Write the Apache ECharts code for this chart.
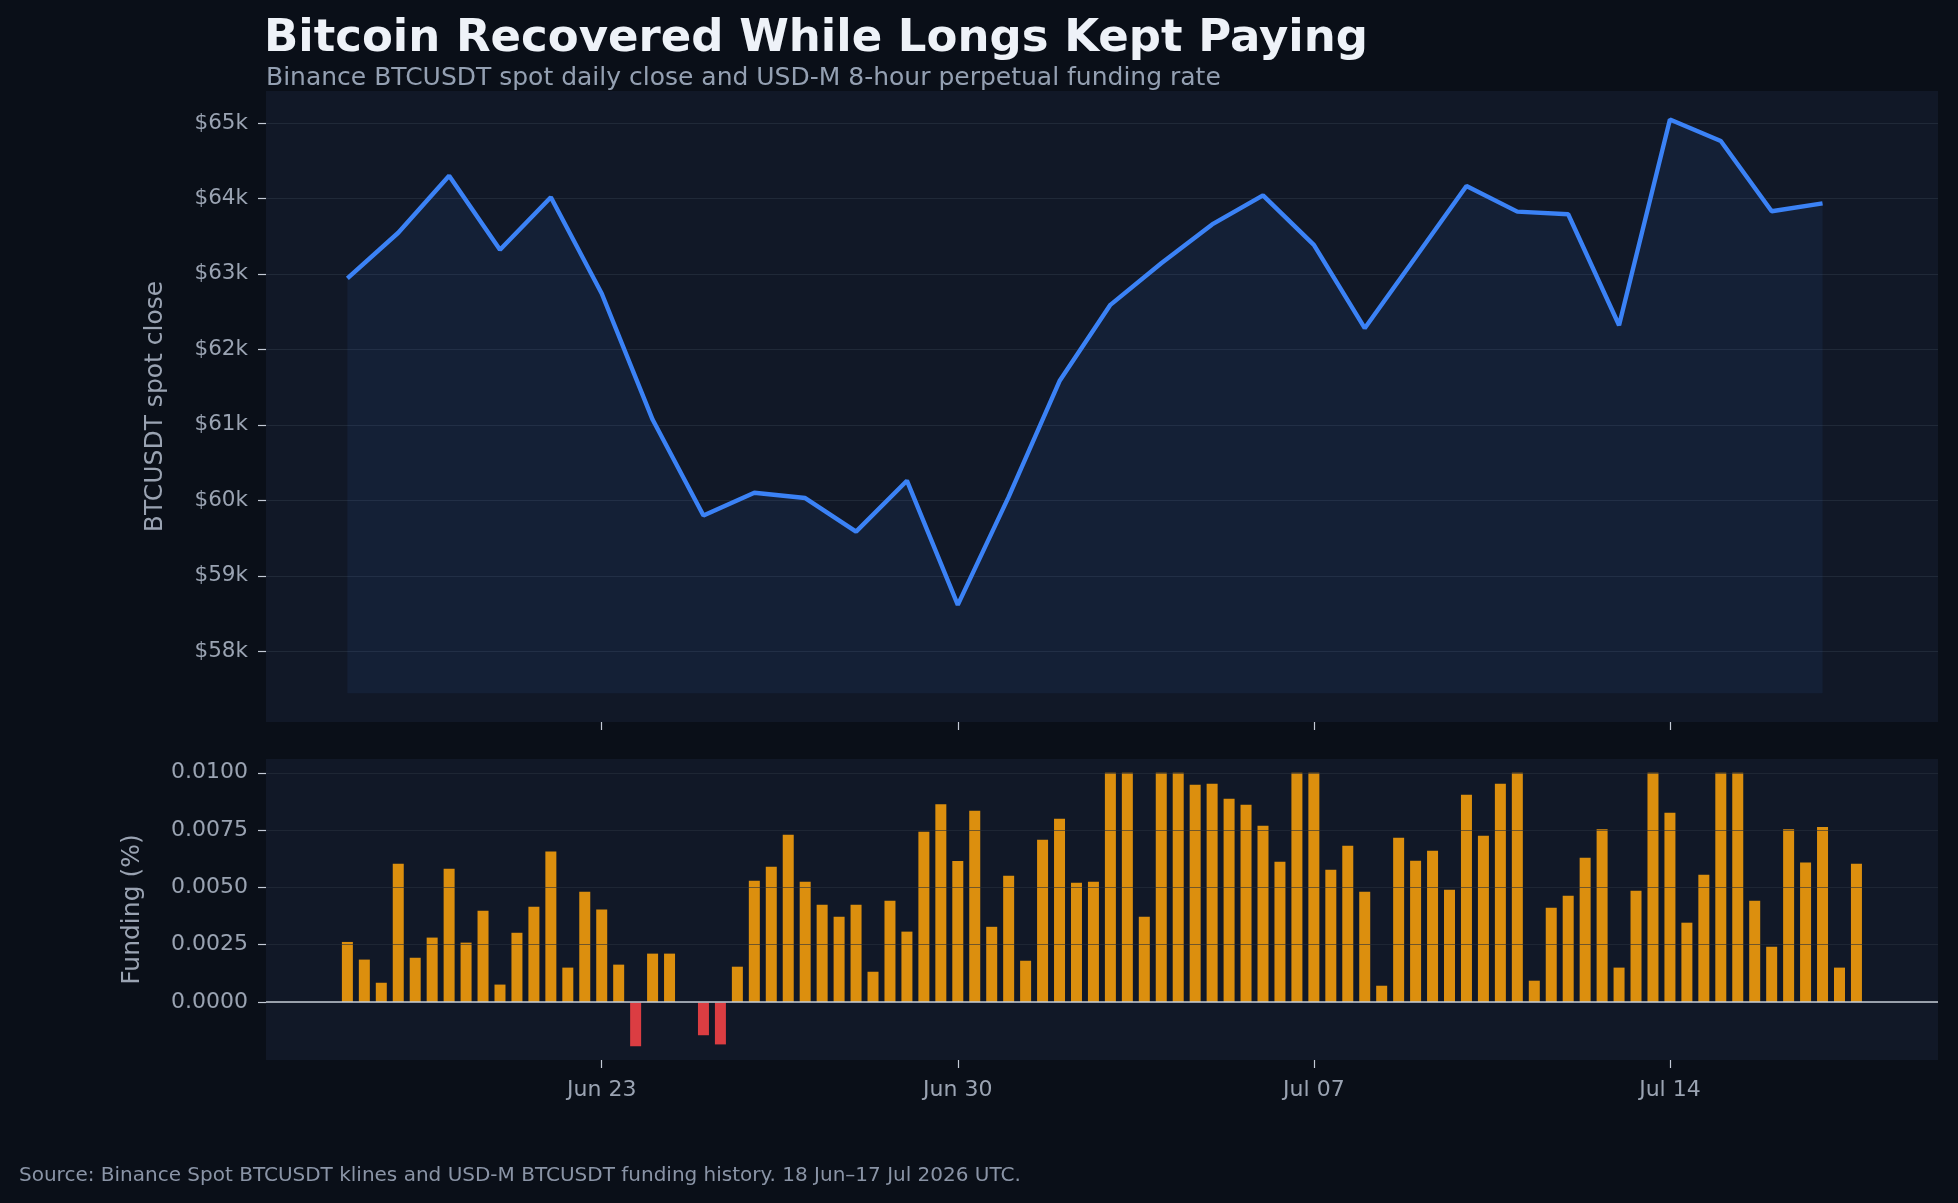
<!DOCTYPE html>
<html lang="en">
<head>
  <meta charset="UTF-8">
  <title>Bitcoin Recovered While Longs Kept Paying</title>
  <style>
    html, body {
      margin: 0;
      padding: 0;
      background: #0a0f18;
    }
    #chart {
      width: 1958px;
      height: 1203px;
    }
  </style>
</head>
<body>
  <div id="chart"></div>

  <script src="https://cdn.jsdelivr.net/npm/echarts@6.0.0/dist/echarts.min.js"></script>
  <script>
    // daily spot close, Binance BTCUSDT
    const dates = [
      '2026-06-18', '2026-06-19', '2026-06-20', '2026-06-21', '2026-06-22',
      '2026-06-23', '2026-06-24', '2026-06-25', '2026-06-26', '2026-06-27',
      '2026-06-28', '2026-06-29', '2026-06-30', '2026-07-01', '2026-07-02',
      '2026-07-03', '2026-07-04', '2026-07-05', '2026-07-06', '2026-07-07',
      '2026-07-08', '2026-07-09', '2026-07-10', '2026-07-11', '2026-07-12',
      '2026-07-13', '2026-07-14', '2026-07-15', '2026-07-16', '2026-07-17'
    ];
    const closes = [
      62940, 63545, 64300, 63320, 64015,
      62740, 61070, 59800, 60100, 60030,
      59585, 60260, 58615, 60045, 61580,
      62590, 63140, 63655, 64040, 63385,
      62280, 63220, 64165, 63825, 63790,
      62320, 65045, 64760, 63830, 63935
    ];

    // 8-hour funding settlements (%), three per day
    const fundingHours = [0, 8, 16];
    const fundingRates = [
      0.00262, 0.00185, 0.00084,   // Jun 18
      0.00603, 0.00193, 0.00281,   // Jun 19
      0.00581, 0.00259, 0.00398,   // Jun 20
      0.00076, 0.00302, 0.00416,   // Jun 21
      0.00656, 0.00150, 0.00481,   // Jun 22
      0.00403, 0.00163, -0.00193,  // Jun 23
      0.00211, 0.00211, 0.00000,   // Jun 24
      -0.00145, -0.00185, 0.00154, // Jun 25
      0.00529, 0.00590, 0.00730,   // Jun 26
      0.00525, 0.00424, 0.00372,   // Jun 27
      0.00424, 0.00132, 0.00442,   // Jun 28
      0.00307, 0.00743, 0.00863,   // Jun 29
      0.00615, 0.00834, 0.00328,   // Jun 30
      0.00551, 0.00180, 0.00708,   // Jul 01
      0.00799, 0.00520, 0.00525,   // Jul 02
      0.01000, 0.01000, 0.00372,   // Jul 03
      0.01000, 0.01000, 0.00948,   // Jul 04
      0.00952, 0.00887, 0.00860,   // Jul 05
      0.00769, 0.00612, 0.01000,   // Jul 06
      0.01000, 0.00577, 0.00682,   // Jul 07
      0.00481, 0.00071, 0.00717,   // Jul 08
      0.00616, 0.00660, 0.00490,   // Jul 09
      0.00904, 0.00725, 0.00952,   // Jul 10
      0.01000, 0.00093, 0.00411,   // Jul 11
      0.00464, 0.00629, 0.00754,   // Jul 12
      0.00150, 0.00485, 0.01000,   // Jul 13
      0.00826, 0.00346, 0.00555,   // Jul 14
      0.01000, 0.01000, 0.00442,   // Jul 15
      0.00241, 0.00754, 0.00608,   // Jul 16
      0.00763, 0.00150, 0.00603    // Jul 17
    ];

    const tickDates = ['2026-06-23', '2026-06-30', '2026-07-07', '2026-07-14'];
    const tickLabels = ['Jun 23', 'Jun 30', 'Jul 07', 'Jul 14'];
    const priceTicks = [58000, 59000, 60000, 61000, 62000, 63000, 64000, 65000];
    const priceLabels = ['$58k', '$59k', '$60k', '$61k', '$62k', '$63k', '$64k', '$65k'];
    const fundingTicks = [0, 0.0025, 0.005, 0.0075, 0.01];
    const fundingLabels = ['0.0000', '0.0025', '0.0050', '0.0075', '0.0100'];

    // x positions are days since the first date
    const DAY = 86400000;
    const t0 = Date.parse(dates[0]);
    const dayOf = d => (Date.parse(d) - t0) / DAY;
    const tickDays = tickDates.map(dayOf);

    const lineData = dates.map((d, i) => [dayOf(d), closes[i]]);
    const barData = fundingRates.map((v, i) => {
      const day = dayOf(dates[Math.floor(i / 3)]) + fundingHours[i % 3] / 24;
      return [day, v];
    });
    const fillBase = Math.min(...closes) * 0.98;

    const font = 'DejaVu Sans';
    const tickColor = '#9aa3b2';
    const gridColor = 'rgba(148,163,184,0.12)';
    const tickLine = { color: '#c3cad6', width: 1.2 };
    const xMin = -1.6, xMax = 31.27;

    const chart = echarts.init(document.getElementById('chart'));

    const option = {
      backgroundColor: '#0a0f18',
      animation: false,
      textStyle: { fontFamily: font },
      title: [
        {
          text: 'Bitcoin Recovered While Longs Kept Paying',
          left: 264, top: 17, padding: 0,
          textStyle: { color: '#eef2f8', fontSize: 45, fontWeight: 'bold', fontFamily: font, lineHeight: 45 }
        },
        {
          text: 'Binance BTCUSDT spot daily close and USD-M 8-hour perpetual funding rate',
          left: 266, top: 66, padding: 0,
          textStyle: { color: '#94a0b2', fontSize: 25, fontWeight: 'normal', fontFamily: font, lineHeight: 25 }
        },
        {
          text: 'Source: Binance Spot BTCUSDT klines and USD-M BTCUSDT funding history. 18 Jun\u201317 Jul 2026 UTC.',
          left: 19, top: 1166, padding: 0,
          textStyle: { color: '#8a94a6', fontSize: 20, fontWeight: 'normal', fontFamily: font, lineHeight: 20 }
        }
      ],
      grid: [
        { left: 266, top: 91, width: 1672, height: 631, show: true, backgroundColor: '#111827', borderWidth: 0 },
        { left: 266, top: 759, width: 1672, height: 301, show: true, backgroundColor: '#111827', borderWidth: 0 }
      ],
      xAxis: [
        {
          type: 'value', gridIndex: 0, min: xMin, max: xMax,
          axisLine: { show: false, onZero: false },
          axisTick: { show: true, customValues: tickDays, length: 8, lineStyle: tickLine },
          axisLabel: { show: false },
          splitLine: { show: false }
        },
        {
          type: 'value', gridIndex: 1, min: xMin, max: xMax,
          axisLine: { show: false, onZero: false },
          axisTick: { show: true, customValues: tickDays, length: 8, lineStyle: tickLine },
          axisLabel: {
            show: true, customValues: tickDays, color: tickColor, fontSize: 22, margin: 19, fontFamily: font,
            formatter: v => tickLabels[tickDays.indexOf(v)] || ''
          },
          splitLine: { show: false }
        }
      ],
      yAxis: [
        {
          type: 'value', gridIndex: 0, min: 57063, max: 65423,
          name: 'BTCUSDT spot close', nameLocation: 'middle', nameGap: 98,
          nameTextStyle: { color: tickColor, fontSize: 25, fontFamily: font },
          axisLine: { show: false, onZero: false },
          axisTick: { show: true, customValues: priceTicks, length: 8, lineStyle: tickLine },
          axisLabel: {
            customValues: priceTicks, color: tickColor, fontSize: 21.5, margin: 18, fontFamily: font,
            formatter: v => priceLabels[priceTicks.indexOf(v)] || ''
          },
          splitLine: { show: true, lineStyle: { color: gridColor, width: 1.2 } }
        },
        {
          type: 'value', gridIndex: 1, min: -0.00253, max: 0.0106, z: 5,
          name: 'Funding (%)', nameLocation: 'middle', nameGap: 121,
          nameTextStyle: { color: tickColor, fontSize: 25, fontFamily: font },
          axisLine: { show: false, onZero: false },
          axisTick: { show: true, customValues: fundingTicks, length: 8, lineStyle: tickLine },
          axisLabel: {
            customValues: fundingTicks, color: tickColor, fontSize: 22, margin: 18, fontFamily: font,
            formatter: v => fundingLabels[fundingTicks.indexOf(v)] || ''
          },
          splitLine: { show: true, lineStyle: { color: 'rgba(40,48,62,0.6)', width: 1.2 } }
        }
      ],
      series: [
        {
          name: 'BTCUSDT close',
          type: 'line',
          xAxisIndex: 0, yAxisIndex: 0,
          data: lineData,
          symbol: 'none',
          lineStyle: { color: '#3b82f6', width: 4.4 },
          areaStyle: { origin: fillBase, color: 'rgba(59,130,246,0.11)' },
          z: 3
        },
        {
          name: 'Funding',
          type: 'bar',
          xAxisIndex: 1, yAxisIndex: 1,
          data: barData,
          barWidth: 11,
          itemStyle: {
            color: p => (p.value[1] < 0 ? '#db3d42' : '#dc8f0e')
          },
          markLine: {
            silent: true,
            symbol: ['none', 'none'],
            label: { show: false },
            lineStyle: { color: '#c6ccd6', width: 1.5, type: 'solid' },
            data: [{ yAxis: 0 }]
          },
          z: 3
        }
      ]
    };

    chart.setOption(option);
    window.addEventListener('resize', () => chart.resize());
  </script>
</body>
</html>
